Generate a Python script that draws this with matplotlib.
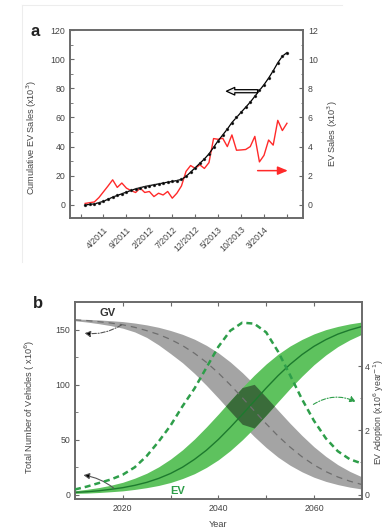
import matplotlib
matplotlib.use('Agg')
import matplotlib.pyplot as plt
import numpy as np
from matplotlib.ticker import MultipleLocator, FixedLocator
from matplotlib.lines import Line2D

plt.rcParams['font.family'] = ['Liberation Sans', 'DejaVu Sans']

# ---------------- Panel a data ----------------
month_index = list(range(45))  # months from 12/2010 to 8/2014
month_ticks = [-1, 4, 9, 14, 19, 24, 29, 34, 39, 44]
month_labels = ['', '4/2011', '9/2011', '2/2012', '7/2012', '12/2012',
                '5/2013', '10/2013', '3/2014', '']
cum_sales = [0, 0.3, 0.7, 1.5, 2.5, 3.9, 5.3, 6.5, 7.6, 8.8,
             9.9, 11.0, 11.8, 12.6, 13.2, 13.8, 14.4, 15.0, 15.6, 16.1,
             16.7, 17.5, 19.5, 22.5, 25.5, 28.5, 31.5, 35.0, 39.5, 44.0,
             48.0, 52.0, 56.5, 60.0, 63.5, 67.0, 70.5, 74.5, 78.5, 82.5,
             87.0, 92.0, 97.5, 102.0, 104.5]
monthly_sales = [0.1, 0.15, 0.2, 0.5, 0.9, 1.3, 1.72, 1.2, 1.5, 1.15,
                 0.98, 0.85, 1.15, 0.85, 0.92, 0.57, 0.8, 0.68, 0.92, 0.46,
                 0.8, 1.3, 2.3, 2.7, 2.5, 2.75, 2.5, 2.9, 4.55, 4.5,
                 4.57, 4.0, 4.8, 3.75, 3.77, 3.8, 4.0, 4.7, 2.95, 3.4,
                 4.45, 4.1, 5.8, 5.1, 5.6]

# ---------------- Panel b data ----------------
years = [2010, 2012.5, 2015, 2017.5, 2020, 2022.5, 2025, 2027.5, 2030,
         2032.5, 2035, 2037.5, 2040, 2042.5, 2045, 2047.5, 2050, 2052.5,
         2055, 2057.5, 2060, 2062.5, 2065, 2067.5, 2070]
gv_upper = [159.5, 159.2, 158.7, 158.0, 157.2, 155.9, 154.2, 152.0, 149.1,
            145.6, 141.2, 135.6, 128.8, 120.5, 110.9, 100.2, 88.6, 76.6,
            64.8, 53.7, 43.5, 34.7, 27.2, 21.1, 16.2]
gv_lower = [158.0, 156.8, 155.3, 153.5, 151.2, 147.8, 142.8, 136.0, 128.1,
            119.8, 110.1, 99.3, 87.7, 75.7, 63.9, 52.8, 42.8, 34.0,
            26.7, 20.7, 15.8, 12.0, 9.1, 6.8, 5.1]
gv_mid = [158.8, 158.1, 157.1, 155.9, 154.3, 152.0, 149.0, 145.5, 141.0,
          135.4, 128.4, 120.2, 110.5, 99.7, 88.1, 76.2, 64.4, 53.2,
          43.2, 34.4, 27.0, 20.9, 16.0, 12.2, 9.2]
ev_upper = [3.5, 4.8, 6.4, 8.5, 11.2, 14.9, 19.4, 25.2, 32.3, 40.7, 50.5,
            61.5, 73.2, 85.4, 97.3, 108.5, 118.7, 127.6, 135.0, 141.0,
            146.0, 149.9, 152.8, 155.1, 156.8]
ev_lower = [1.1, 1.4, 1.9, 2.6, 3.4, 4.7, 6.3, 8.3, 11.0, 14.6, 19.0,
            24.7, 31.6, 40.0, 49.7, 60.5, 72.3, 84.4, 96.4, 107.6,
            118.0, 126.9, 134.5, 140.6, 145.6]
ev_mid = [2.0, 2.6, 3.5, 4.8, 6.3, 8.4, 11.1, 14.7, 19.2, 24.9, 32.0,
          40.3, 50.1, 61.1, 72.8, 84.8, 96.8, 108.1, 118.3, 127.2,
          134.7, 140.8, 145.8, 149.6, 152.7]
ev_adoption = [0.16, 0.25, 0.36, 0.47, 0.62, 0.85, 1.2, 1.65, 2.15, 2.75,
               3.3, 3.95, 4.6, 5.1, 5.35, 5.32, 5.05, 4.45, 3.72, 2.97,
               2.3, 1.75, 1.35, 1.1, 0.97]

TXT = '#444444'
SPINE = '#6a6a6a'
FS = 6.3
LFS = 6.6

fig = plt.figure(figsize=(3.88, 5.29), dpi=100)
fig.patch.set_facecolor('white')

# faint frame of panel a
fig.add_artist(Line2D([22/388, 342/388], [1-5/529, 1-5/529],
                      transform=fig.transFigure, color='#ededed', lw=0.8))
fig.add_artist(Line2D([22/388, 22/388], [1-5/529, 1-262/529],
                      transform=fig.transFigure, color='#ededed', lw=0.8))


def style_axis(a):
    for s in a.spines.values():
        s.set_color(SPINE)
        s.set_linewidth(1.2)


# ---------------- Panel a ----------------
axa = fig.add_axes([70/388, 1-218/529, 233/388, 188/529])
axa2 = axa.twinx()
style_axis(axa)
style_axis(axa2)

axa2.plot(month_index, monthly_sales, color='#ff2a2a', lw=1.0, zorder=2)
axa.plot(month_index, cum_sales, color='black', lw=0.9, marker='o', ms=2.1,
         mfc='black', mec='#555555', mew=0.3, zorder=3)
axa.set_zorder(axa2.get_zorder() + 1)
axa.patch.set_visible(False)

axa.set_xlim(-3.3, 47.5)
axa.set_ylim(-9, 120)
axa2.set_ylim(-0.9, 12)
axa.yaxis.set_major_locator(MultipleLocator(20))
axa.yaxis.set_minor_locator(MultipleLocator(10))
axa2.yaxis.set_major_locator(MultipleLocator(2))
axa2.yaxis.set_minor_locator(MultipleLocator(1))
axa.xaxis.set_major_locator(FixedLocator(month_ticks))
axa.set_xticklabels(month_labels, rotation=45, ha='right',
                    rotation_mode='anchor')
axa.tick_params(axis='both', direction='in', labelsize=FS, labelcolor=TXT,
                color=SPINE, length=3, width=0.8, top=False, right=False)
axa.tick_params(axis='y', which='minor', direction='in', length=1.8,
                width=0.6, color=SPINE, right=False)
axa.tick_params(axis='x', pad=5)
axa2.tick_params(axis='y', which='both', direction='in', labelsize=FS,
                 labelcolor=TXT, color=SPINE, width=0.8)
axa2.tick_params(axis='y', which='major', length=3)
axa2.tick_params(axis='y', which='minor', length=1.8, width=0.6)

axa.set_ylabel('Cumulative EV Sales (x10$^3$)', fontsize=LFS, color=TXT)
axa.yaxis.set_label_coords(-0.135, 0.43)
axa2.set_ylabel('EV Sales (x10$^3$)', fontsize=LFS, color=TXT)
axa2.yaxis.set_label_coords(1.099, 0.447)

axa.annotate('', xy=(30.2, 78), xytext=(38.2, 78),
             arrowprops=dict(arrowstyle='simple,head_width=0.55,head_length=0.6,tail_width=0.22',
                             fc='#f2f2f2', ec='black', lw=0.9))
axa2.annotate('', xy=(44.8, 2.35), xytext=(37, 2.35),
              arrowprops=dict(arrowstyle='-|>,head_width=0.25,head_length=0.6',
                              color='#ff2a2a', lw=1.1))

fig.text(35/388, 1-31/529, 'a', fontsize=12, fontweight='bold',
         ha='center', va='center', color='#222222')

# ---------------- Panel b ----------------
axb = fig.add_axes([75/388, 1-499/529, 286.7/388, 197/529])
axb2 = axb.twinx()
style_axis(axb)
style_axis(axb2)

gu = np.array(gv_upper)
gl = np.array(gv_lower)
eu = np.array(ev_upper)
el = np.array(ev_lower)
ov_lo = np.maximum(gl, el)
ov_hi = np.minimum(gu, eu)

axb.fill_between(years, gl, gu, color='#a4a4a4', lw=0, zorder=1)
axb.fill_between(years, el, eu, color='#5ec25e', lw=0, zorder=2)
axb.fill_between(years, ov_lo, ov_hi, where=ov_hi > ov_lo, interpolate=True,
                 color='#3a6c3a', lw=0, zorder=3)
axb.plot(years, gv_mid, color='#6e6e6e', lw=0.9, dashes=(5, 4), zorder=4)
axb.plot(years, ev_mid, color='#1d7a2e', lw=1.0, zorder=4)
axb2.plot(years, ev_adoption, color='#2e9e4a', lw=1.8, dashes=(2.4, 1.6),
          zorder=5)
axb.set_zorder(axb2.get_zorder() - 1)
axb2.patch.set_visible(False)

axb.set_xlim(2010, 2070)
axb.set_ylim(-4, 175)
axb2.set_ylim(-4/29.2, 175/29.2)
axb.xaxis.set_major_locator(FixedLocator([2020, 2030, 2040, 2050, 2060]))
axb.set_xticklabels(['2020', '', '2040', '', '2060'])
axb.yaxis.set_major_locator(FixedLocator([0, 50, 100, 150]))
axb.yaxis.set_minor_locator(FixedLocator([25, 75, 125]))
axb2.yaxis.set_major_locator(FixedLocator([0, 2, 4, 6]))
axb2.yaxis.set_minor_locator(FixedLocator([1, 3, 5]))
axb.tick_params(axis='both', direction='in', labelsize=FS, labelcolor=TXT,
                color=SPINE, length=3, width=0.8, top=True, right=False)
axb.tick_params(axis='y', which='minor', direction='in', length=1.8,
                width=0.6, color=SPINE)
axb2.tick_params(axis='y', which='both', direction='in', labelsize=FS,
                 labelcolor=TXT, color=SPINE, width=0.8, pad=2)
axb2.tick_params(axis='y', which='major', length=3)
axb2.tick_params(axis='y', which='minor', length=1.8, width=0.6)

axb.set_xlabel('Year', fontsize=LFS, color=TXT, labelpad=5)
axb.set_ylabel('Total Number of Vehicles ( x10$^6$)', fontsize=LFS,
               color=TXT)
axb.yaxis.set_label_coords(-0.132, 0.467)
axb2.set_ylabel('EV Adoption (x10$^6$ year$^{-1}$)', fontsize=6.3,
                color=TXT)
axb2.yaxis.set_label_coords(1.036, 0.44)

# annotations
axb.annotate('', xy=(2011.4, 147), xytext=(2020.2, 155.5),
             arrowprops=dict(arrowstyle='-|>,head_width=0.18,head_length=0.35',
                             connectionstyle='arc3,rad=-0.2', color='#555555',
                             lw=0.8, linestyle=(0, (4, 1.5, 1, 1.5)),
                             fc='black'), zorder=6)
axb.annotate('', xy=(2011.2, 18), xytext=(2018.5, 4.5),
             arrowprops=dict(arrowstyle='-|>,head_width=0.18,head_length=0.35',
                             connectionstyle='arc3,rad=0.15', color='#555555',
                             lw=0.8, fc='black'), zorder=6)
axb2.annotate('', xy=(2069.3, 2.85), xytext=(2059.4, 2.76),
              arrowprops=dict(arrowstyle='-|>,head_width=0.18,head_length=0.35',
                              connectionstyle='arc3,rad=-0.3', color='#2e9e4a',
                              lw=0.8, linestyle=(0, (4, 1.5, 1, 1.5))),
              zorder=6)

axb.text(2016.8, 165, 'GV', fontsize=8, fontweight='bold', color='#333333',
         ha='center', va='center', zorder=7)
axb.text(2031.4, 3.5, 'EV', fontsize=8, fontweight='bold', color='#2e9e4a',
         ha='center', va='center', zorder=7)

fig.text(38/388, 1-303/529, 'b', fontsize=12, fontweight='bold',
         ha='center', va='center', color='#222222')

fig.savefig('out.png', dpi=100, facecolor='white')
